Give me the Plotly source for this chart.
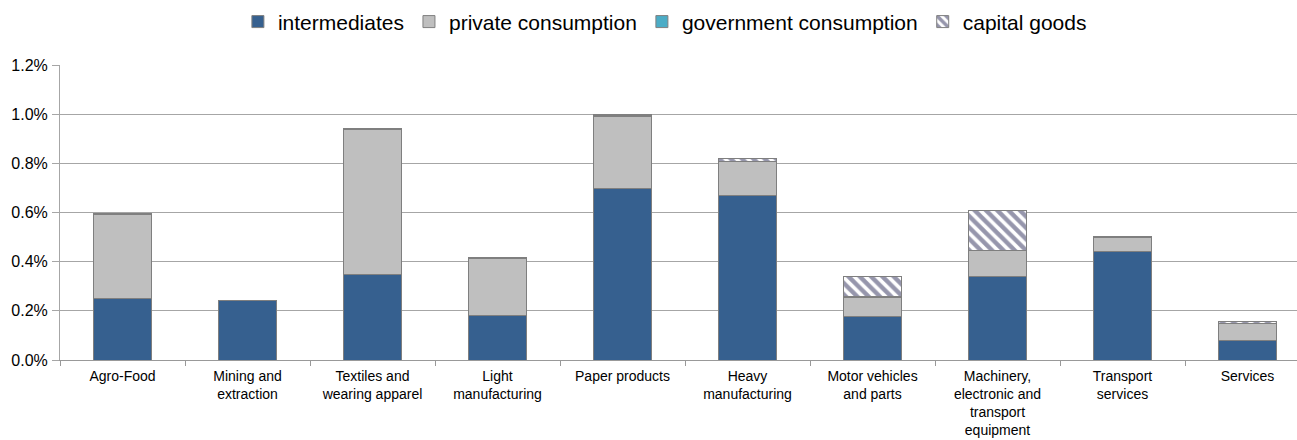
import plotly.graph_objects as go

# Sector categories (line breaks as printed on the axis)
categories = [
    "Agro-Food",
    "Mining and<br>extraction",
    "Textiles and<br>wearing apparel",
    "Light<br>manufacturing",
    "Paper products",
    "Heavy<br>manufacturing",
    "Motor vehicles<br>and parts",
    "Machinery,<br>electronic and<br>transport<br>equipment",
    "Transport<br>services",
    "Services",
]

# Contributions by final-demand component, in percent
intermediates = [0.250, 0.241, 0.346, 0.182, 0.697, 0.671, 0.176, 0.339, 0.441, 0.078]
private_consumption = [0.340, 0.000, 0.591, 0.232, 0.292, 0.136, 0.079, 0.106, 0.057, 0.071]
government_consumption = [0.001, 0.000, 0.001, 0.001, 0.006, 0.001, 0.005, 0.001, 0.001, 0.001]
capital_goods = [0.004, 0.000, 0.004, 0.003, 0.004, 0.012, 0.079, 0.163, 0.003, 0.005]

outline = dict(color="#7f7f7f", width=1)
bar_width = 0.47

fig = go.Figure()
fig.add_bar(
    name="intermediates", x=categories, y=intermediates, width=bar_width,
    marker=dict(color="#36608f", line=outline),
)
fig.add_bar(
    name="private consumption", x=categories, y=private_consumption, width=bar_width,
    marker=dict(color="#bfbfbf", line=outline),
)
fig.add_bar(
    name="government consumption", x=categories, y=government_consumption, width=bar_width,
    marker=dict(color="#4bacc6", line=outline),
)
fig.add_bar(
    name="capital goods", x=categories, y=capital_goods, width=bar_width,
    marker=dict(
        color="white",
        line=outline,
        pattern=dict(shape="\\", fgcolor="#2e2e5a", bgcolor="white", size=8, solidity=0.55),
    ),
)

fig.update_layout(
    barmode="stack",
    width=1297,
    height=440,
    margin=dict(l=60, r=0, t=65, b=80),
    paper_bgcolor="white",
    plot_bgcolor="white",
    font=dict(family="Liberation Sans, Arial, sans-serif", size=15, color="#000000"),
    legend=dict(
        orientation="h",
        x=0.489,
        xanchor="center",
        y=1.146,
        yanchor="middle",
        font=dict(size=21, color="#000000"),
        traceorder="normal",
        itemclick=False,
    ),
    showlegend=True,
)

fig.update_xaxes(
    type="category",
    range=[-0.5, 9.396],
    automargin=False,
    showline=True,
    linecolor="#999999",
    linewidth=1,
    ticks="outside",
    tickson="boundaries",
    ticklen=5,
    tickcolor="#999999",
    showgrid=False,
    tickfont=dict(size=14),
    ticklabelstandoff=3,
)
fig.update_yaxes(
    range=[0, 1.2],
    dtick=0.2,
    tickformat=".1f",
    ticksuffix="%",
    automargin=False,
    showgrid=True,
    gridcolor="#a6a6a6",
    gridwidth=1,
    showline=True,
    linecolor="#a6a6a6",
    ticks="outside",
    ticklen=7,
    tickcolor="#a6a6a6",
    ticklabelstandoff=1,
    zeroline=False,
    tickfont=dict(size=16),
)

fig.write_html("out.html")
